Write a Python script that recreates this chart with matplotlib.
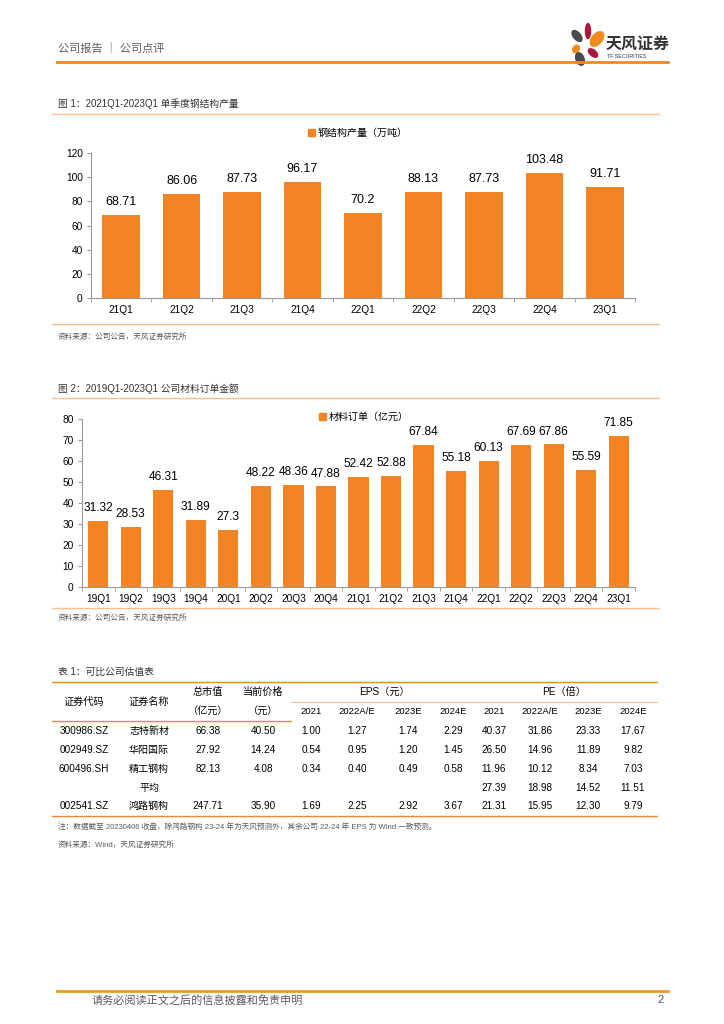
import matplotlib
matplotlib.use('Agg')
import matplotlib.pyplot as plt
from matplotlib.patches import Ellipse, Patch
import numpy as np

plt.rcParams['font.family'] = ['Liberation Sans', 'Noto Sans CJK SC']
plt.rcParams['axes.unicode_minus'] = False

# ---- data ----
q_steel = ['21Q1', '21Q2', '21Q3', '21Q4', '22Q1', '22Q2', '22Q3', '22Q4', '23Q1']
steel_output = [68.71, 86.06, 87.73, 96.17, 70.2, 88.13, 87.73, 103.48, 91.71]

q_orders = ['19Q1', '19Q2', '19Q3', '19Q4', '20Q1', '20Q2', '20Q3', '20Q4', '21Q1',
            '21Q2', '21Q3', '21Q4', '22Q1', '22Q2', '22Q3', '22Q4', '23Q1']
material_orders = [31.32, 28.53, 46.31, 31.89, 27.3, 48.22, 48.36, 47.88, 52.42,
                   52.88, 67.84, 55.18, 60.13, 67.69, 67.86, 55.59, 71.85]

codes = ['300986.SZ', '002949.SZ', '600496.SH', '', '002541.SZ']
names = ['志特新材', '华阳国际', '精工钢构', '平均', '鸿路钢构']
mkt_cap = [66.38, 27.92, 82.13, None, 247.71]
price = [40.50, 14.24, 4.08, None, 35.90]
eps = [[1.00, 1.27, 1.74, 2.29],
       [0.54, 0.95, 1.20, 1.45],
       [0.34, 0.40, 0.49, 0.58],
       [None, None, None, None],
       [1.69, 2.25, 2.92, 3.67]]
pe = [[40.37, 31.86, 23.33, 17.67],
      [26.50, 14.96, 11.89, 9.82],
      [11.96, 10.12, 8.34, 7.03],
      [27.39, 18.98, 14.52, 11.51],
      [21.31, 15.95, 12.30, 9.79]]
years = ['2021', '2022A/E', '2023E', '2024E']

ORANGE = '#F28423'
LINE = '#F0892A'
LIGHT = '#F8C08C'
GRAY = '#595959'
W, H = 724, 1024

fig = plt.figure(figsize=(W / 100, H / 100), dpi=100)


def fx(x): return x / W
def fy(y): return 1 - y / H


def hline(y, x0, x1, color=LINE, lw=1.2):
    fig.add_artist(plt.Line2D([fx(x0), fx(x1)], [fy(y), fy(y)], color=color, lw=lw))


def txt(x, y, s, size=7, color='black', ha='left', **kw):
    fig.text(fx(x), fy(y), s, fontsize=size, color=color, ha=ha, va='center', **kw)


# ---- header ----
txt(58, 48, '公司报告 ｜ 公司点评', size=8, color=GRAY)
hline(62, 57, 668, color='#EE8A22', lw=2)
lax = fig.add_axes([fx(568), fy(66), fx(40), 44 / H])
lax.set_xlim(0, 40); lax.set_ylim(0, 44); lax.axis('off')
for (cx, cy, w, h, ang, c) in [(9, 30, 7, 13, 40, '#4A4A4A'), (20, 35, 5, 15, 0, '#A8193B'),
                              (29, 27, 10, 17, -40, '#F08A1C'), (8, 17, 6, 8, -30, '#F08A1C'),
                              (25, 13, 6, 11, 50, '#A8193B'), (12, 7, 8, 13, 20, '#4A4A4A')]:
    lax.add_patch(Ellipse((cx, cy), w, h, angle=ang, color=c))
fig.text(fx(606), fy(44), '天风证券', fontsize=11.5, fontweight='bold', color='#333333', va='center')
fig.text(fx(607), fy(57), 'TF SECURITIES', fontsize=3.8, color='#333333', va='center')

# ---- figure 1 ----
txt(58, 104, '图 1：2021Q1-2023Q1 单季度钢结构产量', size=7, color='#333333')
hline(114, 52, 659, color=LIGHT, lw=1)


def bar_chart(box, cats, vals, ymax, step, legend_label, legend_xy, label_size):
    x0, y0, x1, y1 = box
    ax = fig.add_axes([fx(x0), fy(y1), fx(x1 - x0), (y1 - y0) / H])
    x = np.arange(len(cats))
    bars = ax.bar(x, vals, width=0.62, color=ORANGE, label=legend_label, zorder=2)
    ax.bar_label(bars, labels=[f'{v:g}' for v in vals], padding=5, fontsize=label_size)
    ax.set_xlim(-0.5, len(cats) - 0.5)
    ax.set_ylim(0, ymax)
    ax.set_yticks(np.arange(0, ymax + 1, step))
    ax.set_xticks(x)
    ax.set_xticklabels(cats)
    ax.set_xticks(np.arange(-0.5, len(cats), 1), minor=True)
    ax.tick_params(axis='x', which='major', length=0, labelsize=7.3, pad=5)
    ax.tick_params(axis='x', which='minor', length=3, color='#999999')
    ax.tick_params(axis='y', length=3, color='#999999', labelsize=7.3, pad=3)
    for s in ['top', 'right']:
        ax.spines[s].set_visible(False)
    for s in ['left', 'bottom']:
        ax.spines[s].set_color('#999999')
        ax.spines[s].set_linewidth(0.8)
    ax.legend(handles=[Patch(color=ORANGE, label=legend_label)], loc='center',
              bbox_to_anchor=(fx(legend_xy[0]), fy(legend_xy[1])),
              bbox_transform=fig.transFigure, frameon=False, fontsize=7.2,
              handlelength=0.7, handleheight=0.7, handletextpad=0.3)
    return ax


bar_chart((91, 153, 635, 298), q_steel, steel_output, 120, 20, '钢结构产量（万吨）', (358, 133), 9)
hline(324, 52, 659, color=LIGHT, lw=1)
txt(58, 337, '资料来源：公司公告，天风证券研究所', size=5.5, color=GRAY)

# ---- figure 2 ----
txt(58, 389, '图 2：2019Q1-2023Q1 公司材料订单金额', size=7, color='#333333')
hline(398, 52, 659, color=LIGHT, lw=1)
bar_chart((82, 419, 635, 587), q_orders, material_orders, 80, 10, '材料订单（亿元）', (364, 417), 8.6)
hline(608, 52, 659, color=LIGHT, lw=1)
txt(58, 618, '资料来源：公司公告，天风证券研究所', size=5.5, color=GRAY)

# ---- table ----
txt(58, 672, '表 1：可比公司估值表', size=7, color='#333333')
hline(682, 52, 657, lw=1)
hline(702, 291, 657, color=LIGHT, lw=0.8)
hline(721, 52, 291, lw=1)
hline(816, 52, 657, lw=1)

col_x = [84, 149, 208, 263]
eps_x = [311, 357, 408, 453]
pe_x = [494, 540, 588, 633]
txt(col_x[0], 702, '证券代码', size=7.3, ha='center')
txt(col_x[1], 702, '证券名称', size=7.3, ha='center')
txt(col_x[2], 692, '总市值', size=7.3, ha='center')
txt(col_x[2], 711, '（亿元）', size=7.3, ha='center')
txt(col_x[3], 692, '当前价格', size=7.3, ha='center')
txt(col_x[3], 711, '（元）', size=7.3, ha='center')
txt(384, 692, 'EPS（元）', size=7.3, ha='center')
txt(564, 692, 'PE（倍）', size=7.3, ha='center')
for i, yr in enumerate(years):
    txt(eps_x[i], 712, yr, size=6.8, ha='center')
    txt(pe_x[i], 712, yr, size=6.8, ha='center')


def f2(v): return '' if v is None else f'{v:.2f}'


row_y = [731, 750, 769, 788, 806]
for r, y in enumerate(row_y):
    txt(col_x[0], y, codes[r], size=7.2, ha='center')
    txt(col_x[1], y, names[r], size=7.2, ha='center')
    txt(col_x[2], y, f2(mkt_cap[r]), size=7.2, ha='center')
    txt(col_x[3], y, f2(price[r]), size=7.2, ha='center')
    for i in range(4):
        txt(eps_x[i], y, f2(eps[r][i]), size=7.2, ha='center')
        txt(pe_x[i], y, f2(pe[r][i]), size=7.2, ha='center')

txt(58, 827, '注：数据截至 20230406 收盘，除鸿路钢构 23-24 年为天风预测外，其余公司 22-24 年 EPS 为 Wind 一致预测。',
    size=5.5, color=GRAY)
txt(58, 845, '资料来源：Wind，天风证券研究所', size=5.5, color=GRAY)

# ---- footer ----
hline(991, 57, 668, color='#EE9A22', lw=2)
txt(92, 1000, '请务必阅读正文之后的信息披露和免责申明', size=8, color=GRAY)
txt(664, 1000, '2', size=8, color=GRAY, ha='right')

fig.savefig('out.png', dpi=100)
